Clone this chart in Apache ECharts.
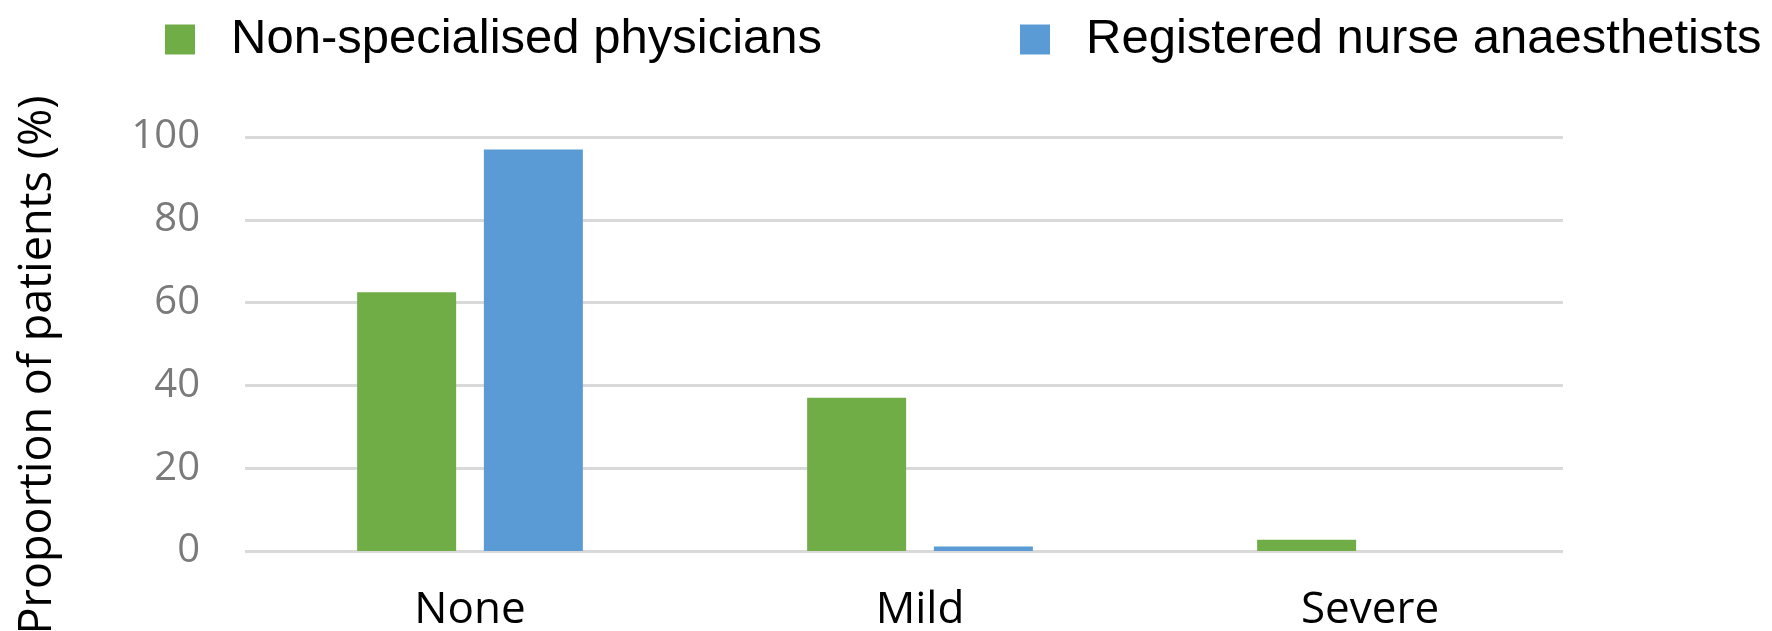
<!DOCTYPE html>
<html>
<head>
<meta charset="utf-8">
<script src="https://cdn.jsdelivr.net/npm/echarts@6/dist/echarts.min.js"></script>
<style>
html,body{margin:0;padding:0;background:#fff;}
#chart{width:1772px;height:631px;}
</style>
</head>
<body>
<div id="chart"></div>
<script>
const categories = ["None", "Mild", "Severe"];
const seriesNames = ["Non-specialised physicians", "Registered nurse anaesthetists"];
const physicians = [62.5, 37, 2.7];
const nurses = [97, 1.1, 0];
const yTicks = [0, 20, 40, 60, 80, 100];

const chart = echarts.init(document.getElementById('chart'));
chart.setOption({
  animation: false,
  backgroundColor: '#ffffff',
  legend: {
    data: seriesNames,
    left: 160,
    top: 10,
    itemWidth: 30,
    itemHeight: 30,
    itemGap: 198,
    icon: 'rect',
    textStyle: {
      fontFamily: 'Liberation Sans',
      fontSize: 49,
      color: '#000',
      padding: [0, 0, 18, 31]
    }
  },
  grid: [
    {left: 245, right: 177, top: 137, bottom: 80, containLabel: false, outerBoundsMode: 'none'},
    {left: 245, right: 209, top: 137, bottom: 80, containLabel: false, outerBoundsMode: 'none'}
  ],
  xAxis: [
    {
      type: 'category',
      gridIndex: 0,
      data: categories,
      axisLine: {show: false},
      axisTick: {show: false},
      axisLabel: {
        fontFamily: 'Open Sans',
        fontSize: 44,
        color: '#000',
        margin: 37
      }
    },
    {
      type: 'category',
      gridIndex: 1,
      data: categories,
      show: false
    }
  ],
  yAxis: [
    {
      type: 'value',
      gridIndex: 0,
      min: yTicks[0],
      max: yTicks[yTicks.length - 1],
      interval: 20,
      show: false
    },
    {
      type: 'value',
      gridIndex: 1,
      min: yTicks[0],
      max: yTicks[yTicks.length - 1],
      interval: 20,
      name: 'Proportion of patients (%)',
      nameLocation: 'middle',
      nameGap: 184,
      nameTextStyle: {
        fontFamily: 'Open Sans',
        fontSize: 45,
        color: '#000',
        padding: [0, 42, 0, 0]
      },
      axisLine: {show: false},
      axisTick: {show: false},
      axisLabel: {
        fontFamily: 'Open Sans',
        fontSize: 40,
        color: '#7a7a7a',
        margin: 45
      },
      splitLine: {lineStyle: {color: '#d9d9d9', width: 3}}
    }
  ],
  series: [
    {
      name: seriesNames[0],
      type: 'bar',
      xAxisIndex: 0,
      yAxisIndex: 0,
      data: physicians,
      barWidth: '22%',
      barGap: '28%',
      z: 3,
      itemStyle: {color: '#70AD47'}
    },
    {
      name: seriesNames[1],
      type: 'bar',
      xAxisIndex: 0,
      yAxisIndex: 0,
      data: nurses,
      barWidth: '22%',
      z: 3,
      itemStyle: {color: '#5B9BD5'}
    }
  ]
});
</script>
</body>
</html>
